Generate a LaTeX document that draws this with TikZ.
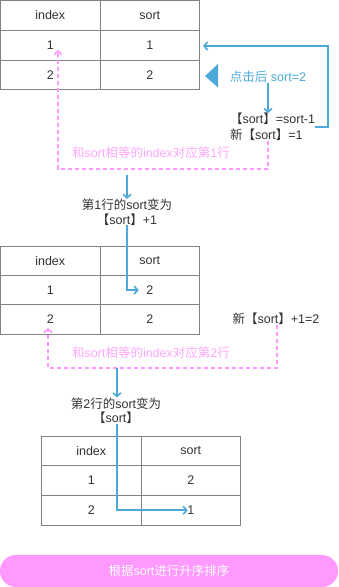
\documentclass[tikz,border=0pt]{standalone}
\usepackage{fontspec}
\setmainfont{Liberation Sans}
\newfontfamily\cjk{Noto Sans CJK SC}
\usetikzlibrary{arrows.meta,calc}
\definecolor{bl}{HTML}{4DA9DA}
\definecolor{pk}{HTML}{FF99FF}
\definecolor{pkt}{HTML}{FFA6FF}
\definecolor{tx}{HTML}{333333}
\definecolor{bd}{HTML}{808080}
\newcommand\zh[1]{{\cjk #1}}
\begin{document}
\begin{tikzpicture}[x=1pt,y=-1pt,
  font=\fontsize{12.5}{15}\selectfont, text=tx,
  cell/.style={draw=bd, line width=0.8pt, minimum width=99.5pt, minimum height=#1, inner sep=0pt, outer sep=0pt, anchor=north west},
  cell/.default=29.7pt,
  barr/.style={draw=bl, line width=1.6pt, -{Straight Barb[length=3.5pt,width=8pt,line width=1.6pt]}},
  parr/.style={draw=pk, line width=1.6pt, dash pattern=on 4.5pt off 2.5pt, -{Straight Barb[length=3.5pt,width=8pt,line width=1.6pt]}},
  lbl/.style={inner sep=0pt, outer sep=0pt}]
\useasboundingbox (0,0) rectangle (338,587);

% table 1
\node[cell] (t1hi) at (0.5,0.5) {index};
\node[cell] (t1hs) at (100,0.5) {sort};
\node[cell] (t1ai) at (0.5,30.2) {1};
\node[cell] (t1as) at (100,30.2) {1};
\node[cell] (t1bi) at (0.5,59.9) {2};
\node[cell] (t1bs) at (100,59.9) {2};

% table 2
\node[cell=29.4pt] (t2hi) at (0.5,246) {index};
\node[cell=29.4pt] (t2hs) at (100,246) {sort};
\node[cell=29.4pt] (t2ai) at (0.5,275.4) {1};
\node[cell=29.4pt] (t2as) at (100,275.4) {2};
\node[cell=29.4pt] (t2bi) at (0.5,304.8) {2};
\node[cell=29.4pt] (t2bs) at (100,304.8) {2};

% table 3
\node[cell] (t3hi) at (41.5,436) {index};
\node[cell] (t3hs) at (141,436) {sort};
\node[cell] (t3ai) at (41.5,465.7) {1};
\node[cell] (t3as) at (141,465.7) {2};
\node[cell] (t3bi) at (41.5,495.4) {2};
\node[cell] (t3bs) at (141,495.4) {1};

% step 1
\fill[bl] (218,64) -- (205,76) -- (218,87.5) -- cycle;
\node[lbl, text=bl] (click) at (268,77) {\zh{点击后} sort=2};
\node[lbl, anchor=west, align=left, font=\fontsize{12.5}{16}\selectfont] (calc) at (230,127)
  {\zh{【}sort\zh{】}=sort-1\\\zh{新【}sort\zh{】}=1};
\draw[barr] (click.south) -- (click.south |- calc.north);
\coordinate (c1) at (328,46);
\draw[barr] (calc.east) -| (c1) -- ([xshift=3.5pt]t1as.east |- c1);

\coordinate (pk1) at (58,169);
\coordinate (pt1) at (58,50);
\draw[parr] (click.south |- calc.south) |- (pk1) -- (pt1);
\node[lbl, text=pkt] (pl1) at (151,153) {\zh{和}sort\zh{相等的}index\zh{对应第}1\zh{行}};

% step 2
\coordinate (s2) at (127,175);
\node[lbl, align=center, font=\fontsize{12.5}{14.5}\selectfont] (n2) at (127,212)
  {\zh{第}1\zh{行的}sort\zh{变为}\\\zh{【}sort\zh{】}+1};
\draw[barr] (s2) -- (s2 |- n2.north);
\draw[barr] (s2 |- n2.south) |- ([xshift=-11pt]t2as.center);

\node[lbl] (n3t) at (276,319) {\zh{新【}sort\zh{】}+1=2};
\coordinate (pk2) at (48,368);
\coordinate (pt2) at (48,328);
\draw[parr] ([xshift=1pt]n3t.south) |- (pk2) -- (pt2);
\node[lbl, text=pkt] (pl2) at (151,353) {\zh{和}sort\zh{相等的}index\zh{对应第}2\zh{行}};

% step 3
\coordinate (s3) at (117,368);
\node[lbl, align=center, font=\fontsize{12.5}{14.5}\selectfont] (n3) at (116,410.5)
  {\zh{第}2\zh{行的}sort\zh{变为}\\\zh{【}sort\zh{】}};
\draw[barr] (s3) -- (s3 |- n3.north);
\draw[barr] (s3 |- n3.south) |- ([xshift=-3pt]t3bs.center);

% bar
\node[fill=pk, rounded corners=16pt, minimum width=338pt, minimum height=32pt, inner sep=0pt, text=white] (bar) at (169,571)
  {\zh{根据}sort\zh{进行升序排序}};
\end{tikzpicture}
\end{document}
